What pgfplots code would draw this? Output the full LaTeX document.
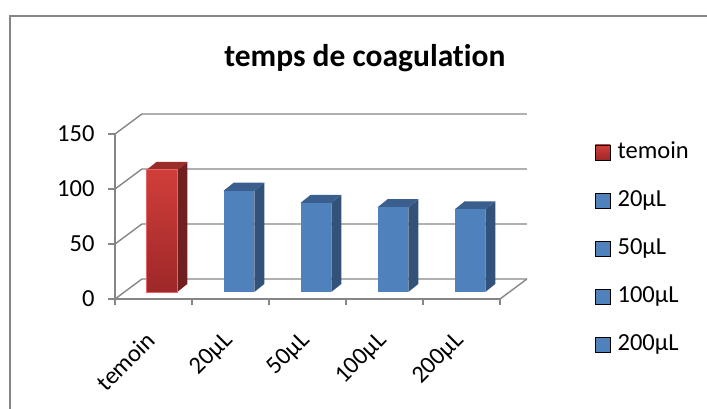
\documentclass[border=0pt]{standalone}
\usepackage{pgfplots}
\pgfplotsset{compat=1.18}
\usepackage{fontspec}
\setmainfont{Carlito}[Ligatures=NoCommon]
\definecolor{gridgray}{RGB}{134,134,134}
\definecolor{redtop}{RGB}{208,62,58}
\definecolor{redbot}{RGB}{158,40,40}
\definecolor{redside}{RGB}{112,32,32}
\definecolor{redlid}{RGB}{155,44,42}
\definecolor{rededge}{RGB}{232,100,100}
\definecolor{bluefront}{RGB}{79,129,189}
\definecolor{blueside}{RGB}{50,82,122}
\definecolor{bluelid}{RGB}{58,95,142}

% 3D-looking bar: #1 category position, #2 value, #3 front-face options, #4 side colour, #5 lid colour
\newcommand{\tdbar}[5]{%
  \pgfmathsetmacro\xa{#1-0.09}%
  \pgfmathsetmacro\xb{#1+0.31}%
  \pgfmathsetmacro\xc{#1+0.44}%
  \pgfmathsetmacro\xd{#1+0.04}%
  \pgfmathsetmacro\ya{6.4}%
  \pgfmathsetmacro\yb{13.7}%
  \pgfmathsetmacro\yt{#2+6.4}%
  \pgfmathsetmacro\ytt{#2+13.7}%
  \edef\tmp{%
    \noexpand\addplot[forget plot, draw=none, fill=#4] coordinates {(\xb,\ya) (\xc,\yb) (\xc,\ytt) (\xb,\yt)} -- cycle;
    \noexpand\addplot[forget plot, draw=none, fill=#5] coordinates {(\xa,\yt) (\xb,\yt) (\xc,\ytt) (\xd,\ytt)} -- cycle;
    \noexpand\addplot[forget plot, #3] coordinates {(\xa,\ya) (\xb,\ya) (\xb,\yt) (\xa,\yt)} -- cycle;}%
  \tmp
}

\begin{document}
\begin{tikzpicture}
\begin{axis}[
  at={(115pt,109pt)}, anchor=south west,
  scale only axis, width=385pt, height=165pt,
  xmin=-0.5, xmax=4.5, ymin=0, ymax=150,
  clip=false,
  axis lines*=left,
  axis line style={gridgray, line width=1.4pt},
  ytick={0,50,100,150},
  xtick={0,1,2,3,4},
  xticklabels={temoin,20µL,50µL,100µL,200µL},
  minor xtick={-0.5,0.5,1.5,2.5,3.5,4.5},
  tick align=outside,
  major tick length=7pt, minor tick length=6pt,
  major x tick style={draw=none},
  ytick style={gridgray, line width=1.4pt},
  minor tick style={gridgray, line width=1.4pt},
  /pgf/number format/assume math mode=true,
  tick label style={font=\fontsize{24.5}{29}\selectfont},
  yticklabel style={anchor=east, xshift=-10pt},
  xticklabel style={xshift=-8.4pt, yshift=-21pt, rotate=45, anchor=north east, inner sep=2pt},
  title={temps de coagulation},
  title style={at={(axis description cs:0.649,1.37)}, anchor=base, font=\bfseries\fontsize{31.5}{37}\selectfont},
  legend style={at={(axis description cs:1.2468,0.963)}, anchor=north west, draw=none, fill=none,
    font=\fontsize{24.5}{29}\selectfont, inner sep=0pt, row sep=24pt,
    nodes={inner sep=1pt, text height=17pt, text depth=5pt}},
  legend cell align=left,
  legend image code/.code={\fill[#1] (0pt,-7.5pt) rectangle (15pt,7.5pt); \path (21pt,0pt);},
]
% back wall, side wall and floor lines
\addplot[forget plot, gridgray, line width=1.4pt] coordinates {(-0.5,0) (-0.15,18.2) (4.85,18.2)};
\addplot[forget plot, gridgray, line width=1.4pt] coordinates {(-0.5,50) (-0.15,68.2) (4.85,68.2)};
\addplot[forget plot, gridgray, line width=1.4pt] coordinates {(-0.5,100) (-0.15,118.2) (4.85,118.2)};
\addplot[forget plot, gridgray, line width=1.4pt] coordinates {(-0.5,150) (-0.15,168.2) (4.85,168.2)};
\addplot[forget plot, gridgray, line width=1.4pt] coordinates {(4.5,0) (4.85,18.2)};
% bars
\tdbar{0}{111}{top color=redtop, bottom color=redbot, draw=rededge, line width=0.8pt}{redside}{redlid}
\tdbar{1}{92}{fill=bluefront, draw=none}{blueside}{bluelid}
\tdbar{2}{81}{fill=bluefront, draw=none}{blueside}{bluelid}
\tdbar{3}{77}{fill=bluefront, draw=none}{blueside}{bluelid}
\tdbar{4}{75}{fill=bluefront, draw=none}{blueside}{bluelid}
% legend
\addlegendimage{top color=redtop, bottom color=redbot}
\addlegendentry{temoin}
\addlegendimage{fill=bluefront}
\addlegendentry{20µL}
\addlegendimage{fill=bluefront}
\addlegendentry{50µL}
\addlegendimage{fill=bluefront}
\addlegendentry{100µL}
\addlegendimage{fill=bluefront}
\addlegendentry{200µL}
\end{axis}
\draw[gridgray, line width=1.5pt] (10pt,-5pt) -- (10pt,392pt) -- (720pt,392pt);
\pgfresetboundingbox
\path[use as bounding box] (0,0) rectangle (707pt,408pt);
\end{tikzpicture}
\end{document}
